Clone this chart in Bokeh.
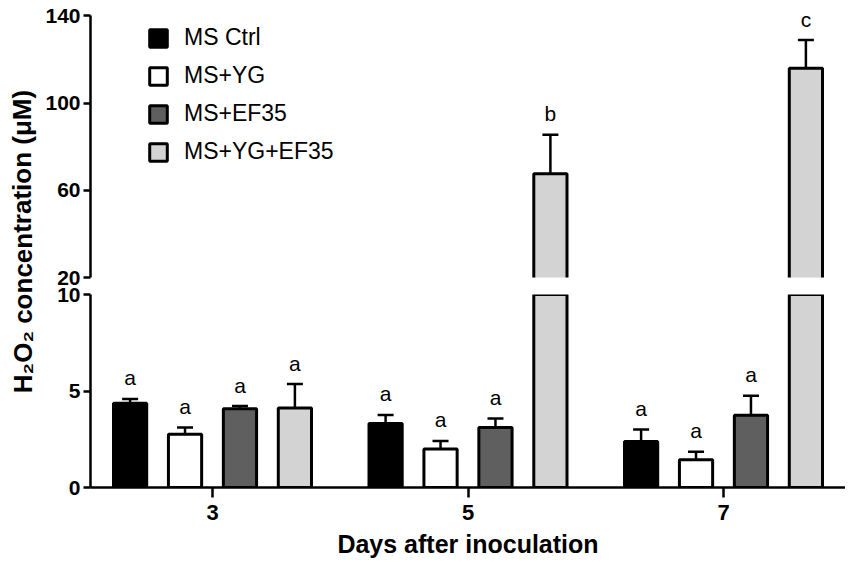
from bokeh.plotting import figure
from bokeh.layouts import row, column
from bokeh.models import (ColumnDataSource, Whisker, TeeHead, FixedTicker,
                          Legend, LegendItem, Range1d)
from bokeh.embed import file_html
from bokeh.resources import INLINE
from bokeh.core.properties import value

# ---------------- data ----------------
days = ["3", "5", "7"]
series = ["MS Ctrl", "MS+YG", "MS+EF35", "MS+YG+EF35"]
ms_ctrl = [4.37, 3.32, 2.38]
ms_ctrl_sd = [0.22, 0.44, 0.63]
ms_yg = [2.76, 1.99, 1.44]
ms_yg_sd = [0.35, 0.42, 0.41]
ms_ef35 = [4.08, 3.11, 3.74]
ms_ef35_sd = [0.14, 0.46, 1.02]
ms_yg_ef35 = [4.12, 67.6, 116.0]
ms_yg_ef35_sd = [1.24, 17.9, 12.9]
letters_ctrl = ["a", "a", "a"]
letters_yg = ["a", "a", "a"]
letters_ef35 = ["a", "a", "a"]
letters_yg_ef35 = ["a", "b", "c"]
upper_ticks = [20, 60, 100, 140]
lower_ticks = [0, 5, 10]
LOW_MAX = 10      # top of the lower axis segment
HIGH_MIN = 20     # bottom of the upper axis segment
HIGH_MAX = 140

means = [ms_ctrl, ms_yg, ms_ef35, ms_yg_ef35]
sds = [ms_ctrl_sd, ms_yg_sd, ms_ef35_sd, ms_yg_ef35_sd]
letters = [letters_ctrl, letters_yg, letters_ef35, letters_yg_ef35]
colors = ["#000000", "#ffffff", "#5f5f5f", "#d3d3d3"]
offsets = [-0.3225, -0.1075, 0.1075, 0.3225]
bar_w = 0.13
FONT = "Liberation Sans"

x_range = Range1d(-0.4775, 2.4775)

LBL_W = 42
W = 803


def style(p):
    p.outline_line_color = None
    p.grid.visible = False
    p.background_fill_color = "white"
    p.border_fill_color = "white"
    for ax in p.yaxis:
        ax.axis_line_width = 2.5
        ax.axis_line_color = "black"
        ax.major_tick_line_width = 2.5
        ax.major_tick_line_color = "black"
        ax.major_tick_out = 7
        ax.major_tick_in = 0
        ax.minor_tick_line_color = None
        ax.major_label_standoff = 3
        ax.major_label_text_font = FONT
        ax.major_label_text_font_style = "bold"
        ax.major_label_text_font_size = "21px"
        ax.major_label_text_color = "black"


upper = figure(width=W, height=285, x_range=x_range,
               y_range=Range1d(HIGH_MIN, 142),
               toolbar_location=None, output_backend="svg",
               x_axis_location=None, min_border_left=48, min_border_right=0,
               min_border_top=11, min_border_bottom=8)
lower = figure(width=W, height=275, x_range=x_range,
               y_range=Range1d(0, LOW_MAX),
               toolbar_location=None, output_backend="svg",
               min_border_left=48, min_border_right=0,
               min_border_top=9, min_border_bottom=70)
style(upper)
style(lower)
upper.yaxis.bounds = (HIGH_MIN, HIGH_MAX)
upper.yaxis.ticker = FixedTicker(ticks=upper_ticks)
lower.yaxis.ticker = FixedTicker(ticks=lower_ticks)

xa = lower.xaxis[0]
xa.ticker = FixedTicker(ticks=list(range(len(days))))
xa.major_label_overrides = {i: d for i, d in enumerate(days)}
xa.axis_line_width = 2.5
xa.axis_line_color = "black"
xa.major_tick_line_width = 2.5
xa.major_tick_line_color = "black"
xa.major_tick_out = 10
xa.major_tick_in = 0
xa.minor_tick_line_color = None
xa.major_label_standoff = 7
xa.major_label_text_font = FONT
xa.major_label_text_font_style = "bold"
xa.major_label_text_font_size = "22px"
xa.major_label_text_color = "black"
xa.axis_label = "Days after inoculation"
xa.axis_label_text_font = FONT
xa.axis_label_text_font_style = "bold"
xa.axis_label_text_font_size = "25px"
xa.axis_label_text_color = "black"
xa.axis_label_standoff = 7

legend_items = []
for k in range(len(series)):
    xs = [i + offsets[k] for i in range(len(days))]
    tops = [m + s for m, s in zip(means[k], sds[k])]
    bars = ColumnDataSource(dict(x=xs, val=means[k],
                                 mid=[m / 2 for m in means[k]]))
    for p in (upper, lower):
        if p is upper:
            eidx = [i for i in range(len(days)) if tops[i] > HIGH_MIN]
            # rect glyph: bars lying fully below the upper segment are
            # simply clipped away (no zero-height artefacts)
            r = p.rect(x="x", y="mid", width=bar_w, height="val", source=bars,
                       fill_color=colors[k], line_color="black", line_width=3)
            legend_items.append(LegendItem(label=series[k], renderers=[r]))
        else:
            eidx = [i for i in range(len(days)) if tops[i] <= LOW_MAX]
            p.vbar(x="x", top="val", bottom=0, width=bar_w, source=bars,
                   fill_color=colors[k], line_color="black", line_width=3)
        errs = ColumnDataSource(dict(x=[xs[i] for i in eidx],
                                     val=[means[k][i] for i in eidx],
                                     top=[tops[i] for i in eidx],
                                     lab=[letters[k][i] for i in eidx]))
        p.add_layout(Whisker(source=errs, base="x", lower="val", upper="top",
                             dimension="height", line_width=2.5,
                             line_color="black",
                             upper_head=TeeHead(size=16, line_width=2.5,
                                                line_color="black"),
                             lower_head=None))
        p.text(x="x", y="top", text="lab", source=errs, y_offset=-21,
               text_align="center", text_baseline="alphabetic",
               text_font=value(FONT), text_font_size="21px",
               text_color="black")

legend = Legend(items=legend_items, location=(57, 112), glyph_width=22,
                glyph_height=22, label_height=22, spacing=11, padding=0,
                margin=0, label_standoff=15, border_line_color=None,
                background_fill_alpha=0, label_text_font=FONT,
                label_text_font_size="23px", label_text_color="black")
upper.add_layout(legend)

lab = figure(width=LBL_W, height=560, x_range=(0, LBL_W), y_range=(0, 560),
             toolbar_location=None, output_backend="svg",
             x_axis_location=None, y_axis_location=None, min_border=0)
lab.outline_line_color = None
lab.grid.visible = False
lab.text(x=[22], y=[319], text=["H\u2082O\u2082 concentration (\u03bcM)"],
         angle=1.5708, text_align="center", text_baseline="middle",
         text_font=value(FONT), text_font_size="26px",
         text_font_style="bold", text_color="black")

layout = row(lab, column(upper, lower))
open("out.html", "w").write(file_html(layout, INLINE))
